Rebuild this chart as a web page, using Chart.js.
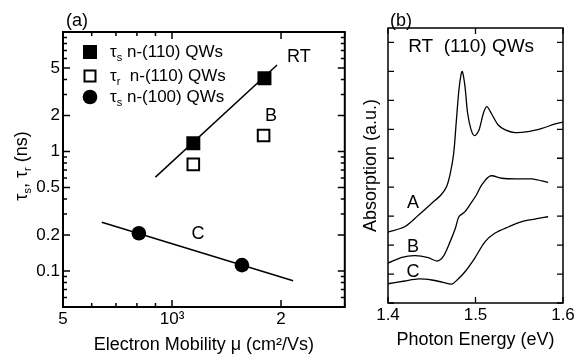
<!DOCTYPE html>
<html>
<head>
<meta charset="utf-8">
<script src="https://cdn.jsdelivr.net/npm/chart.js@4.4.0/dist/chart.umd.min.js"></script>
<style>
body{margin:0;background:#fff;width:579px;height:354px;position:relative;overflow:hidden}
#cA{position:absolute;left:0;top:0}
#cB{position:absolute;left:355px;top:0}
</style>
</head>
<body>
<canvas id="cA" width="355" height="354"></canvas>
<canvas id="cB" width="224" height="354"></canvas>
<script>
// ---- panel (a): lifetimes vs electron mobility, log-log ----
var mobS110 = [1145, 1800];
var tauS110 = [1.17, 4.1];
var mobR110 = [1145, 1790];
var tauR110 = [0.78, 1.36];
var mobS100 = [810, 1560];
var tauS100 = [0.207, 0.112];
var fitRTx = [900, 1950];
var fitRTy = [0.61, 5.3];
var fitCx = [640, 2160];
var fitCy = [0.256, 0.083];
var mobTicks = [500, 600, 700, 800, 900, 1000, 2000, 3000];
var mobMajor = [1000, 2000];
var mobLabels = {500: '5', 1000: '10³', 2000: '2'};
var tauTicks = [0.05, 0.06, 0.07, 0.08, 0.09, 0.1, 0.2, 0.3, 0.4, 0.5, 0.6, 0.7, 0.8, 0.9,
                1, 2, 3, 4, 5, 6, 7, 8, 9, 10];
var tauLabelled = [0.1, 0.2, 0.5, 1, 2, 5];

// ---- panel (b): absorption spectra ----
var energyA = [1.400, 1.419, 1.435, 1.450, 1.461, 1.467, 1.471, 1.475, 1.478, 1.481, 1.4835, 1.485,
               1.488, 1.491, 1.495, 1.499, 1.504, 1.509, 1.513, 1.518, 1.526, 1.534, 1.545, 1.560,
               1.576, 1.591, 1.600];
var absA = [4.9, 5.27, 6.08, 6.89, 7.5, 8.05, 8.9, 10.3, 12.5, 14.7, 15.8, 16.0,
            14.95, 13.11, 11.96, 11.56, 11.96, 13.11, 13.57, 13.11, 12.3, 11.96, 11.77, 11.84,
            12.07, 12.37, 12.5];
var energyB = [1.400, 1.416, 1.431, 1.446, 1.456, 1.463, 1.471, 1.477, 1.481, 1.488, 1.496, 1.501,
               1.507, 1.517, 1.530, 1.549, 1.564, 1.583];
var absB = [2.75, 3.16, 3.27, 3.13, 2.9, 3.2, 4.24, 5.16, 5.96, 6.31, 7.0, 7.46,
            8.15, 8.78, 8.62, 8.57, 8.57, 8.34];
var energyC = [1.400, 1.419, 1.435, 1.450, 1.463, 1.473, 1.479, 1.488, 1.499, 1.511, 1.522, 1.538,
               1.553, 1.568, 1.583];
var absC = [1.33, 1.52, 1.66, 1.59, 1.43, 1.31, 1.59, 2.16, 3.09, 4.24, 4.82, 5.27,
            5.62, 5.8, 5.96];
var energyTicks = [1.4, 1.5, 1.6];
var absTicks = [];
for (var k = 0; k <= 19; k++) absTicks.push(k);

var FONT = '"Liberation Sans", Arial, sans-serif';

function pts(xs, ys) {
  return xs.map(function (x, i) { return {x: x, y: ys[i]}; });
}

function isIn(list, v) {
  return list.some(function (m) { return Math.abs(m - v) < 1e-9 * Math.max(1, Math.abs(m)); });
}

// text with subscripts: parts = [[text, isSub], ...]
function drawRich(ctx, parts, x, y, size, center) {
  var w = 0;
  parts.forEach(function (p) {
    ctx.font = (p[1] ? Math.round(size * 0.62) : size) + 'px ' + FONT;
    w += ctx.measureText(p[0]).width;
  });
  var cx = center ? x - w / 2 : x;
  ctx.textAlign = 'left';
  ctx.textBaseline = 'middle';
  parts.forEach(function (p) {
    ctx.font = (p[1] ? Math.round(size * 0.62) : size) + 'px ' + FONT;
    ctx.fillText(p[0], cx, p[1] ? y + size * 0.33 : y);
    cx += ctx.measureText(p[0]).width;
  });
}

// box frame plus inward ticks on all four sides
function makeFrame(cfg) {
  return {
    id: 'frame',
    afterDraw: function (chart) {
      var ctx = chart.ctx, a = chart.chartArea;
      var sx = chart.scales.x, sy = chart.scales.y;
      ctx.save();
      ctx.strokeStyle = '#000';
      ctx.lineWidth = cfg.frame;
      ctx.strokeRect(a.left, a.top, a.right - a.left, a.bottom - a.top);
      ctx.lineWidth = cfg.tick;
      ctx.beginPath();
      sx.ticks.forEach(function (t) {
        var p = sx.getPixelForValue(t.value);
        var len = cfg.xMajor(t.value) ? cfg.major : cfg.minor;
        ctx.moveTo(p, a.bottom); ctx.lineTo(p, a.bottom - len);
        ctx.moveTo(p, a.top); ctx.lineTo(p, a.top + len);
      });
      sy.ticks.forEach(function (t) {
        var p = sy.getPixelForValue(t.value);
        var len = cfg.yMajor(t.value) ? cfg.major : cfg.minor;
        ctx.moveTo(a.left, p); ctx.lineTo(a.left + len, p);
        ctx.moveTo(a.right, p); ctx.lineTo(a.right - len, p);
      });
      ctx.stroke();
      ctx.restore();
    }
  };
}

var notesA = {
  id: 'notesA',
  afterDraw: function (chart) {
    var ctx = chart.ctx, a = chart.chartArea;
    var sx = chart.scales.x, sy = chart.scales.y;
    ctx.save();
    ctx.fillStyle = '#000';
    ctx.font = '18px ' + FONT;
    ctx.textAlign = 'center';
    ctx.textBaseline = 'middle';
    ctx.fillText('(a)', a.left + 14, a.top - 11);
    ctx.fillText('RT', sx.getPixelForValue(2240), sy.getPixelForValue(6.2));
    ctx.fillText('B', sx.getPixelForValue(1877), sy.getPixelForValue(2.0));
    ctx.fillText('C', sx.getPixelForValue(1180), sy.getPixelForValue(0.203));

    // legend
    var lx = a.left + 27, rows = [a.top + 20, a.top + 44, a.top + 65];
    ctx.fillRect(lx - 7, rows[0] - 7, 14, 14);
    ctx.lineWidth = 2;
    ctx.strokeStyle = '#000';
    ctx.strokeRect(lx - 5.5, rows[1] - 5.5, 11, 11);
    ctx.beginPath();
    ctx.arc(lx, rows[2], 7.3, 0, Math.PI * 2);
    ctx.fill();
    drawRich(ctx, [['τ', false], ['s', true], [' n-(110) QWs', false]], a.left + 47, rows[0], 17, false);
    drawRich(ctx, [['τ', false], ['r', true], ['  n-(110) QWs', false]], a.left + 47, rows[1], 17, false);
    drawRich(ctx, [['τ', false], ['s', true], [' n-(100) QWs', false]], a.left + 47, rows[2], 17, false);

    // y title
    ctx.translate(22, 166);
    ctx.rotate(-Math.PI / 2);
    drawRich(ctx, [['τ', false], ['s', true], [', τ', false], ['r', true], [' (ns)', false]], 0, 0, 18, true);
    ctx.restore();
  }
};

var notesB = {
  id: 'notesB',
  afterDraw: function (chart) {
    var ctx = chart.ctx, a = chart.chartArea;
    var sx = chart.scales.x, sy = chart.scales.y;
    ctx.save();
    ctx.fillStyle = '#000';
    ctx.textAlign = 'center';
    ctx.textBaseline = 'middle';
    ctx.font = '18px ' + FONT;
    ctx.fillText('(b)', a.left + 13, a.top - 7);
    ctx.font = '19px ' + FONT;
    ctx.fillText('RT  (110) QWs', sx.getPixelForValue(1.495), sy.getPixelForValue(17.7));
    ctx.font = '18px ' + FONT;
    ctx.fillText('A', sx.getPixelForValue(1.4286), sy.getPixelForValue(6.9));
    ctx.fillText('B', sx.getPixelForValue(1.4286), sy.getPixelForValue(3.87));
    ctx.fillText('C', sx.getPixelForValue(1.4286), sy.getPixelForValue(2.14));
    ctx.restore();
  }
};

var tickFont = {family: FONT, size: 17};
var titleFont = {family: FONT, size: 18, lineHeight: 1};

new Chart(document.getElementById('cA'), {
  type: 'scatter',
  data: {
    datasets: [
      {data: pts(mobS110, tauS110), pointStyle: 'rect', pointRadius: 9.9, backgroundColor: '#000', borderWidth: 0},
      {data: pts(mobR110, tauR110), pointStyle: 'rect', pointRadius: 8.2, backgroundColor: '#fff', borderColor: '#000', borderWidth: 2},
      {data: pts(mobS100, tauS100), pointStyle: 'circle', pointRadius: 7.3, backgroundColor: '#000', borderWidth: 0},
      {data: pts(fitRTx, fitRTy), showLine: true, pointRadius: 0, borderColor: '#000', borderWidth: 1.5},
      {data: pts(fitCx, fitCy), showLine: true, pointRadius: 0, borderColor: '#000', borderWidth: 1.5}
    ]
  },
  options: {
    responsive: false,
    animation: false,
    layout: {padding: {left: 0, top: 32, right: 10, bottom: 0}},
    plugins: {legend: {display: false}, tooltip: {enabled: false}},
    scales: {
      x: {
        type: 'logarithmic', min: 500, max: 3000,
        afterBuildTicks: function (s) { s.ticks = mobTicks.map(function (v) { return {value: v}; }); },
        afterFit: function (s) { s.height = 47; },
        grid: {display: false, drawTicks: false},
        border: {display: false},
        ticks: {
          font: tickFont, color: '#000', padding: 2, autoSkip: false, maxRotation: 0,
          callback: function (v) { return mobLabels[v] || ''; }
        },
        title: {display: true, text: 'Electron Mobility μ (cm²/Vs)', font: titleFont, color: '#000', padding: 0}
      },
      y: {
        type: 'logarithmic', min: 0.05, max: 10,
        afterBuildTicks: function (s) { s.ticks = tauTicks.map(function (v) { return {value: v}; }); },
        afterFit: function (s) { s.width = 63; },
        grid: {display: false, drawTicks: false},
        border: {display: false},
        ticks: {
          font: tickFont, color: '#000', padding: 3, autoSkip: false,
          callback: function (v) { return isIn(tauLabelled, v) ? String(v) : ''; }
        }
      }
    }
  },
  plugins: [makeFrame({
    frame: 2, tick: 1.5, major: 7, minor: 4,
    xMajor: function (v) { return isIn(mobMajor, v); },
    yMajor: function (v) { return isIn(tauLabelled, v); }
  }), notesA]
});

function curve(xs, ys) {
  return {data: pts(xs, ys), showLine: true, pointRadius: 0, borderColor: '#000', borderWidth: 1.3,
          tension: 0.3};
}

new Chart(document.getElementById('cB'), {
  type: 'scatter',
  data: {datasets: [curve(energyA, absA), curve(energyB, absB), curve(energyC, absC)]},
  options: {
    responsive: false,
    animation: false,
    layout: {padding: {left: 0, top: 28, right: 16, bottom: 0}},
    plugins: {legend: {display: false}, tooltip: {enabled: false}},
    scales: {
      x: {
        type: 'linear', min: 1.4, max: 1.6,
        afterBuildTicks: function (s) { s.ticks = energyTicks.map(function (v) { return {value: v}; }); },
        afterFit: function (s) { s.height = 51; },
        grid: {display: false, drawTicks: false},
        border: {display: false},
        ticks: {
          font: tickFont, color: '#000', padding: 2, autoSkip: false, maxRotation: 0,
          callback: function (v) { return Number(v).toFixed(1); }
        },
        title: {display: true, text: 'Photon Energy (eV)', font: titleFont, color: '#000', padding: {top: 0, bottom: 5}}
      },
      y: {
        type: 'linear', min: 0, max: 19,
        afterBuildTicks: function (s) { s.ticks = absTicks.map(function (v) { return {value: v}; }); },
        afterFit: function (s) { s.width = 33; },
        grid: {display: false, drawTicks: false},
        border: {display: false},
        ticks: {font: tickFont, color: '#000', padding: 2, callback: function () { return ''; }},
        title: {display: true, text: 'Absorption (a.u.)', font: titleFont, color: '#000', padding: {top: 7, bottom: 0}}
      }
    }
  },
  plugins: [makeFrame({
    frame: 1.5, tick: 1.3, major: 6, minor: 4,
    xMajor: function () { return true; },
    yMajor: function (v) { return v % 2 === 0; }
  }), notesB]
});
</script>
</body>
</html>
